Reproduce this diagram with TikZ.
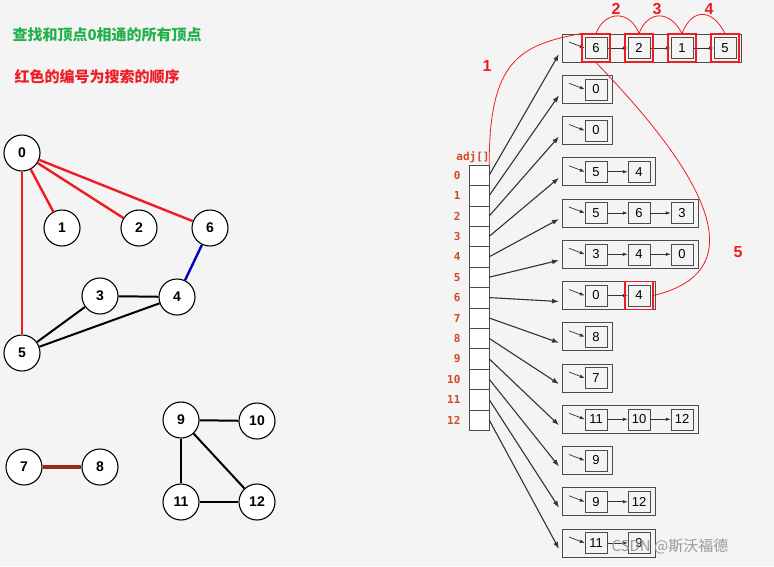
\documentclass[tikz,border=0pt]{standalone}
\usepackage{fontspec}
\setmainfont{Liberation Sans}
\setmonofont{DejaVu Sans Mono}
\newfontfamily\cjk{Noto Sans CJK SC}
\usetikzlibrary{arrows.meta}
\definecolor{bg}{HTML}{F4F4F4}
\definecolor{gtxt}{HTML}{22B04C}
\definecolor{rtxt}{HTML}{EE1C24}
\definecolor{adjc}{HTML}{D04A28}
\definecolor{dred}{HTML}{9B2A1E}
\tikzset{
 vert/.style={circle,draw,line width=1.1pt,fill=white,minimum size=36pt,inner sep=0pt,font=\bfseries\fontsize{14}{14}\selectfont},
 redge/.style={draw=rtxt,line width=2.4pt},
 bedge/.style={draw=black,line width=2pt},
 item/.style={draw=black!70,fill=bg,minimum width=22pt,minimum height=21pt,inner sep=0pt,font=\fontsize{13}{13}\selectfont},
 rowbox/.style={draw=black!70,line width=0.8pt,minimum height=28pt,inner sep=0pt},
 cell/.style={draw=black!70,fill=white,minimum width=20pt,minimum height=20.4pt,inner sep=0pt},
 ptr/.style={draw=black!80,line width=1.1pt,-{Latex[length=7pt,width=5pt]}},
 iptr/.style={draw=black!80,line width=0.7pt,-{Latex[length=5pt,width=3.5pt]}},
 redmark/.style={draw=rtxt,line width=1.1pt,minimum width=28pt,minimum height=28pt},
 rline/.style={draw=rtxt,line width=0.8pt},
 rlab/.style={text=rtxt,font=\bfseries\fontsize{16}{16}\selectfont},
 adjf/.style={text=adjc,font=\ttfamily\bfseries\fontsize{11}{11}\selectfont}
}
\begin{document}
\begin{tikzpicture}[x=1pt,y=-1pt]
\fill[bg] (0,0) rectangle (774,566);
\useasboundingbox (0,0) rectangle (774,566);
\node[anchor=west,text=gtxt,font=\cjk\bfseries\fontsize{15}{15}\selectfont] (t1) at (9,35) {查找和顶点0相通的所有顶点};
\node[anchor=west,text=rtxt,font=\cjk\bfseries\fontsize{15}{15}\selectfont] (t2) at (11,77) {红色的编号为搜索的顺序};
% graph
\foreach \n/\x/\y in {0/22/153,1/62/228,2/139/228,6/210/228,3/100/296,4/177/297,5/22/353,7/24/467,8/100/467,9/181/420,10/257/421,11/181/502,12/257/502}
  \node[vert] (v\n) at (\x,\y) {\n};
\draw[redge] (v0)--(v1); \draw[redge] (v0)--(v2); \draw[redge] (v0)--(v6); \draw[redge] (v0)--(v5);
\draw[draw=blue!75!black,line width=2.4pt] (v6)--(v4);
\draw[bedge] (v3)--(v4); \draw[bedge] (v5)--(v3); \draw[bedge] (v5)--(v4);
\draw[draw=dred,line width=4.5pt] (v7)--(v8);
\draw[bedge] (v9)--(v10); \draw[bedge] (v9)--(v11); \draw[bedge] (v9)--(v12); \draw[bedge] (v11)--(v12);
% adj array
\node[adjf] (adjl) at (473,157) {adj[]};
\foreach \i in {0,...,12}{
  \node[cell] (a\i) at (479,{175.2+20.4*\i}) {};
  \node[adjf,anchor=east] (al\i) at (464,{175.2+20.4*\i}) {\i};
}
% lists
\foreach \r/\l/\n in {0/{6,2,1,5}/4,1/{0}/1,2/{0}/1,3/{5,4}/2,4/{5,6,3}/3,5/{3,4,0}/3,6/{0,4}/2,7/{8}/1,8/{7}/1,9/{11,10,12}/3,10/{9}/1,11/{9,12}/2,12/{11,9}/2}{
  \pgfmathsetmacro{\yy}{48+41.25*\r}
  \pgfmathsetmacro{\ww}{596+43*(\n-1)+16-562}
  \pgfmathtruncatemacro{\nm}{\n-1}
  \node[rowbox,minimum width=\ww pt,anchor=west] (b\r) at (562,\yy) {};
  \foreach \v [count=\j] in \l {
    \node[item] (i\r-\j) at ({596+43*(\j-1)},\yy) {\v};
  }
  \coordinate (p\r) at (569,\yy-6);
  \draw[iptr] (p\r) -- (i\r-1.west);
  \ifnum\n>1
    \foreach \j in {1,...,\nm}{
      \pgfmathtruncatemacro{\k}{\j+1}
      \draw[iptr] (i\r-\j.east) -- (i\r-\k.west);
    }
  \fi
  \coordinate (e\r) at (559,\yy+6);
  \draw[ptr] (a\r.east) -- (e\r);
}
% red marks
\foreach \j in {1,2,3,4} \node[redmark] (m\j) at (i0-\j) {};
\node[redmark] (m5) at (i6-2) {};
\draw[rline] (a0.north east) .. controls (489,60) and (520,45) .. (m1.north west);
\node[rlab] (l1) at (487,66) {1};
\draw[rline] (m1.north) .. controls (605,10) and (630,10) .. (m2.north);
\node[rlab] (l2) at (616,9) {2};
\draw[rline] (m2.north) .. controls (648,10) and (670,10) .. (m3.north);
\node[rlab] (l3) at (657,9) {3};
\draw[rline] (m3.north) .. controls (692,8) and (712,8) .. (m4.north);
\node[rlab] (l4) at (709,9) {4};
\draw[rline] (m1.south) .. controls (700,170) and (760,270) .. (m5.east);
\node[rlab] (l5) at (738,252) {5};
\node[text=black!40,font=\cjk\fontsize{15}{15}\selectfont,anchor=west] (wm) at (608,546) {CSDN @斯沃福德};
\end{tikzpicture}
\end{document}
